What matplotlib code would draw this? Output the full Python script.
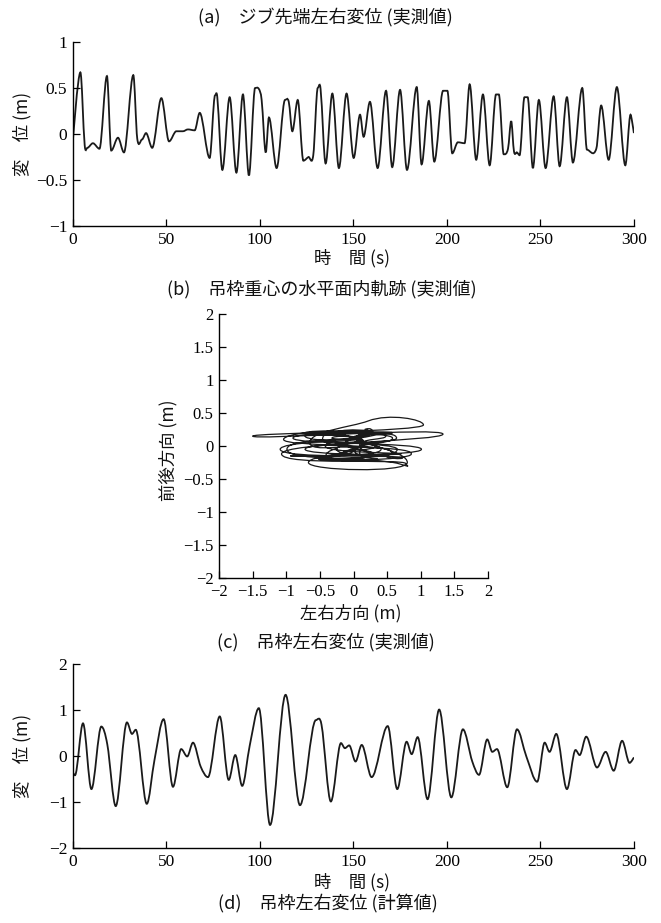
import numpy as np
import matplotlib
matplotlib.use("Agg")
import matplotlib.pyplot as plt
from matplotlib.path import Path
from matplotlib.patches import PathPatch

plt.rcParams['font.family'] = ['Noto Sans CJK JP', 'DejaVu Sans']

ta = [0, 4.1, 6.4, 7.8, 10.8, 14.3, 18.3, 20.6, 24.2, 27.4, 32.4, 34.5, 37, 39.2,
      42.5, 47.4, 51.5, 55.4, 58.9, 61.6, 65.2, 67.9, 73.2, 76.1, 77.3, 80, 83.9,
      87.5, 91, 94.2, 97.5, 99.5, 101, 103.2, 104.9, 109, 113.5, 115.5, 117.4,
      120.3, 123.3, 126, 128.6, 131, 132.5, 135.2, 138.8, 142.3, 146.4, 150.2,
      153.6, 155.5, 158.9, 163, 167.5, 170.8, 175, 178.7, 183.9, 186.5, 190.4,
      193.3, 198, 200.3, 202.9, 205.9, 209.5, 212.2, 215.7, 219.3, 222.9, 226.3,
      227.8, 230.4, 232.7, 234.4, 235.9, 237.5, 238.9, 241.5, 243.2, 246, 249.2,
      252.8, 257.1, 260.3, 264.2, 267.4, 272.4, 274.9, 279.9, 282.5, 286.5,
      290.9, 295.4, 298.2, 299, 300]
va = [-0.1, 0.67, -0.12, -0.15, -0.1, -0.16, 0.63, -0.18, -0.04, -0.2, 0.64, -0.05,
      -0.06, 0.01, -0.15, 0.39, -0.08, 0.03, 0.03, 0.05, 0.04, 0.23, -0.26, 0.42,
      0.40, -0.39, 0.40, -0.42, 0.43, -0.45, 0.50, 0.49, 0.37, -0.2, 0.18, -0.37,
      0.37, 0.35, 0.03, 0.37, -0.29, -0.25, -0.23, 0.50, 0.49, -0.32, 0.44, -0.37,
      0.44, -0.26, 0.21, -0.03, 0.35, -0.37, 0.47, -0.36, 0.48, -0.39, 0.51,
      -0.33, 0.36, -0.30, 0.47, 0.47, -0.21, -0.09, -0.10, 0.54, -0.28, 0.43,
      -0.34, 0.43, 0.43, -0.22, -0.16, 0.14, -0.19, -0.2, -0.23, 0.40, 0.40,
      -0.37, 0.37, -0.37, 0.41, -0.35, 0.40, -0.31, 0.50, -0.17, -0.16, 0.31,
      -0.28, 0.51, -0.34, 0.21, 0.14, 0.01]

# (c) hoisting frame lateral displacement, measured
tc = [0, 1.2, 5.5, 10, 15.3, 18.5, 23, 29, 31.7, 33.7, 39.6, 43.7, 48.6, 53.6, 58,
      61.2, 64.3, 68.4, 72.3, 78.6, 83.4, 86.9, 90.6, 94.6, 99.5, 105.5, 113.8,
      121.5, 130, 133, 138, 143.4, 145.5, 147.8, 151.2, 154.5, 159.8, 168.4,
      173.5, 178.5, 181.2, 184.4, 189.7, 195.9, 202.4, 208.6, 213.6, 217.2,
      221.6, 224.3, 226.8, 232.3, 237.5, 242.5, 248.3, 252.3, 254.9, 258.5,
      264.2, 268.8, 271, 274.5, 280.3, 284.9, 289.2, 293.7, 297.7, 300]
vc = [-0.35, -0.42, 0.71, -0.72, 0.64, 0.25, -1.09, 0.73, 0.48, 0.57, -1.04, -0.09,
      0.80, -0.67, 0.15, -0.01, 0.29, -0.23, -0.46, 0.86, -0.52, 0.02, -0.65,
      0.22, 1.04, -1.50, 1.33, -1.07, 0.78, 0.68, -0.99, 0.28, 0.17, 0.23, -0.12,
      0.24, -0.46, 0.65, -0.72, 0.31, 0.04, 0.41, -0.94, 1.01, -0.90, 0.58,
      -0.12, -0.41, 0.36, 0.09, 0.15, -0.68, 0.58, -0.01, -0.56, 0.29, 0.09,
      0.48, -0.72, 0.13, 0.02, 0.42, -0.25, 0.09, -0.32, 0.33, -0.15, -0.03]

# (b) front-back displacement at the same instants as (c), estimated
fb = [0.05, 0.0, -0.12, -0.05, 0.12, 0.15, -0.05, -0.18, -0.15, -0.1, 0.1, 0.15,
      -0.25, -0.25, 0.05, 0.12, 0.2, 0.22, 0.1, -0.12, -0.2, -0.05, 0.05, 0.38,
      0.32, 0.15, 0.18, -0.12, -0.27, -0.27, -0.05, 0.22, 0.25, 0.2, 0.05, -0.12,
      -0.2, -0.05, 0.15, 0.2, 0.12, -0.05, -0.15, -0.05, 0.12, 0.2, 0.05, -0.15,
      -0.2, -0.1, 0.05, 0.18, 0.12, -0.05, -0.18, -0.12, 0.0, 0.15, 0.2, 0.05,
      -0.08, -0.15, -0.05, 0.1, 0.12, 0.0, -0.08, -0.05]

ticks_t = [0, 50, 100, 150, 200, 250, 300]


def slopes(t, v, flat=True):
    t = np.asarray(t, float)
    v = np.asarray(v, float)
    d = np.zeros_like(v)
    for i in range(1, len(v) - 1):
        if not flat or (v[i] - v[i - 1]) * (v[i + 1] - v[i]) > 0:
            d[i] = (v[i + 1] - v[i - 1]) / (t[i + 1] - t[i - 1])
    return d


def smooth_path(t, x, y, flat_y=True, tension=1.0):
    # cubic bezier through the read points
    t = np.asarray(t, float)
    x = np.asarray(x, float)
    y = np.asarray(y, float)
    dx, dy = slopes(t, x), slopes(t, y, flat_y) * tension
    verts = [(x[0], y[0])]
    codes = [Path.MOVETO]
    for i in range(len(t) - 1):
        h = (t[i + 1] - t[i]) / 3
        verts += [(x[i] + h * dx[i], y[i] + h * dy[i]),
                  (x[i + 1] - h * dx[i + 1], y[i + 1] - h * dy[i + 1]),
                  (x[i + 1], y[i + 1])]
        codes += [Path.CURVE4] * 3
    return Path(verts, codes)


def lab(v):
    return ('%g' % v).replace('-', '\u2212')


def style(ax, xt, yt, fs=11.5):
    for s in ['top', 'right']:
        ax.spines[s].set_visible(False)
    for s in ['left', 'bottom']:
        ax.spines[s].set_linewidth(1.0)
    ax.set_xticks(xt)
    ax.set_yticks(yt)
    ax.set_xticklabels([lab(v) for v in xt])
    ax.set_yticklabels([lab(v) for v in yt])
    for t in ax.get_xticklabels() + ax.get_yticklabels():
        t.set_fontfamily('Liberation Serif')
        t.set_fontsize(fs)
    ax.tick_params(direction='in', length=5, width=0.9, pad=4)


fig = plt.figure(figsize=(6.61, 9.23), dpi=100)
lc = '#1a1a1a'

# (a)
ax1 = fig.add_axes([0.110, 0.7551, 0.849, 0.1994])
ax1.add_patch(PathPatch(smooth_path(ta, ta, va), fill=False, lw=1.3, ec=lc))
ax1.set_xlim(0, 300)
ax1.set_ylim(-1, 1)
style(ax1, ticks_t, [-1, -0.5, 0, 0.5, 1], 12.5)

# (b)
ax2 = fig.add_axes([0.3313, 0.3738, 0.407, 0.286])
ax2.add_patch(PathPatch(smooth_path(tc, vc, fb, False, 2.4), fill=False,
                        lw=0.9, ec=lc))
ax2.set_xlim(-2, 2)
ax2.set_ylim(-2, 2)
tb = [-2, -1.5, -1, -0.5, 0, 0.5, 1, 1.5, 2]
style(ax2, tb, tb, 12)

# (c)
ax3 = fig.add_axes([0.110, 0.0813, 0.849, 0.1993])
ax3.add_patch(PathPatch(smooth_path(tc, tc, vc), fill=False, lw=1.3, ec=lc))
ax3.set_xlim(0, 300)
ax3.set_ylim(-2, 2)
style(ax3, ticks_t, [-2, -1, 0, 1, 2], 12.5)

tk = dict(ha='center', va='center', fontsize=13, color='#111')
lk = dict(ha='center', va='center', fontsize=12.5, color='#111')
fig.text(0.493, 0.9805, '(a)\u3000ジブ先端左右変位 (実測値)', **tk)
fig.text(0.533, 0.7205, '時\u3000間 (s)', **lk)
fig.text(0.034, 0.855, '変\u3000位 (m)', rotation=90, **lk)
fig.text(0.487, 0.687, '(b)\u3000吊枠重心の水平面内軌跡 (実測値)', **tk)
fig.text(0.530, 0.3359, '左右方向 (m)', **lk)
fig.text(0.255, 0.5125, '前後方向 (m)', rotation=90, **lk)
fig.text(0.493, 0.3045, '(c)\u3000吊枠左右変位 (実測値)', **tk)
fig.text(0.533, 0.0445, '時\u3000間 (s)', **lk)
fig.text(0.034, 0.181, '変\u3000位 (m)', rotation=90, **lk)
fig.text(0.496, 0.0217, '(d)\u3000吊枠左右変位 (計算値)', **tk)

fig.savefig('out.png', dpi=100)
